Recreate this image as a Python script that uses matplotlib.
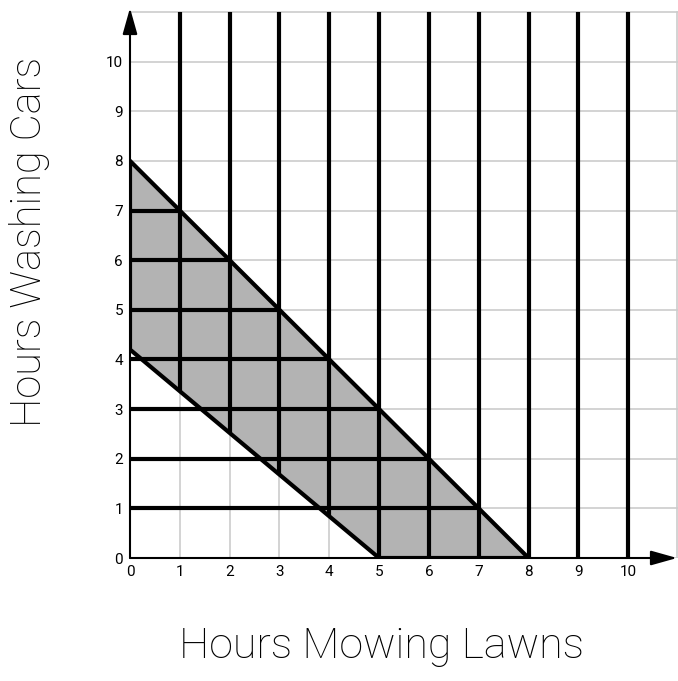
import matplotlib
matplotlib.use("Agg")
import matplotlib.pyplot as plt
from matplotlib.patches import Polygon

# boundary lines of the shaded region: (x, y) end points
upper_line = [(0, 8), (8, 0)]
lower_line = [(0, 4.2), (5, 0)]
region = [(0, 4.2), (0, 8), (8, 0), (5, 0)]

vertical_x = [1, 2, 3, 4, 5, 6, 7, 8, 9, 10]
horizontal_y = [1, 2, 3, 4, 5, 6, 7]
ticks = [0, 1, 2, 3, 4, 5, 6, 7, 8, 9, 10]
grid_pos = ticks + [11]

x_label = "Hours Mowing Lawns"
y_label = "Hours Washing Cars"


def lower_at(x):
    (x0, y0), (x1, y1) = lower_line
    return max(0.0, y0 + (y1 - y0) * (x - x0) / (x1 - x0))


def upper_x_at(y):
    (x0, y0), (x1, y1) = upper_line
    return x0 + (x1 - x0) * (y - y0) / (y1 - y0)


fig = plt.figure(figsize=(6.78, 6.81), dpi=100)
ax = fig.add_axes([130 / 678, 123 / 681, 548 / 678, 551 / 681])
ax.set_xlim(0, 11.0)
ax.set_ylim(0, 11.1)

# light grid
for t in grid_pos:
    ax.plot([0, 11.0], [t, t], color="#cccccc", lw=1.2, zorder=1)
    ax.plot([t - 0.03 * (t == 11)] * 2, [0, 11.0], color="#cccccc", lw=1.2, zorder=1)

ax.add_patch(Polygon(region, closed=True, facecolor="#b3b3b3",
                     edgecolor="black", lw=3, zorder=2, joinstyle="miter"))

for x in vertical_x:
    ax.plot([x, x], [lower_at(x), 11.0], color="black", lw=3,
            solid_capstyle="butt", zorder=3)
for y in horizontal_y:
    ax.plot([0, upper_x_at(y)], [y, y], color="black", lw=3,
            solid_capstyle="butt", zorder=3)

# axes with arrows
head = "-|>,head_length=1.6,head_width=0.45"
ax.annotate("", xy=(0, 11.08), xytext=(0, 0),
            arrowprops=dict(arrowstyle=head, lw=1.5, color="black",
                            shrinkA=0, shrinkB=0),
            zorder=4, annotation_clip=False)
ax.annotate("", xy=(10.98, 0), xytext=(0, 0),
            arrowprops=dict(arrowstyle=head, lw=1.5, color="black",
                            shrinkA=0, shrinkB=0),
            zorder=4, annotation_clip=False)

for s in ax.spines.values():
    s.set_visible(False)

ax.set_xticks(ticks)
ax.set_yticks(ticks)
ax.set_xticklabels([str(t) for t in ticks], fontfamily="Roboto", fontsize=11)
ax.set_yticklabels([str(t) for t in ticks], fontfamily="Roboto", fontsize=11)
ax.tick_params(length=0, pad=5)

fig.text(0.562, 0.050, x_label, ha="center", va="center",
         fontsize=31, fontfamily="Roboto", fontweight="light", color="black")
fig.text(0.044, 0.645, y_label, ha="center", va="center", rotation=90,
         fontsize=30, fontfamily="Roboto", fontweight="light", color="black")

fig.savefig("out.png", dpi=100)
